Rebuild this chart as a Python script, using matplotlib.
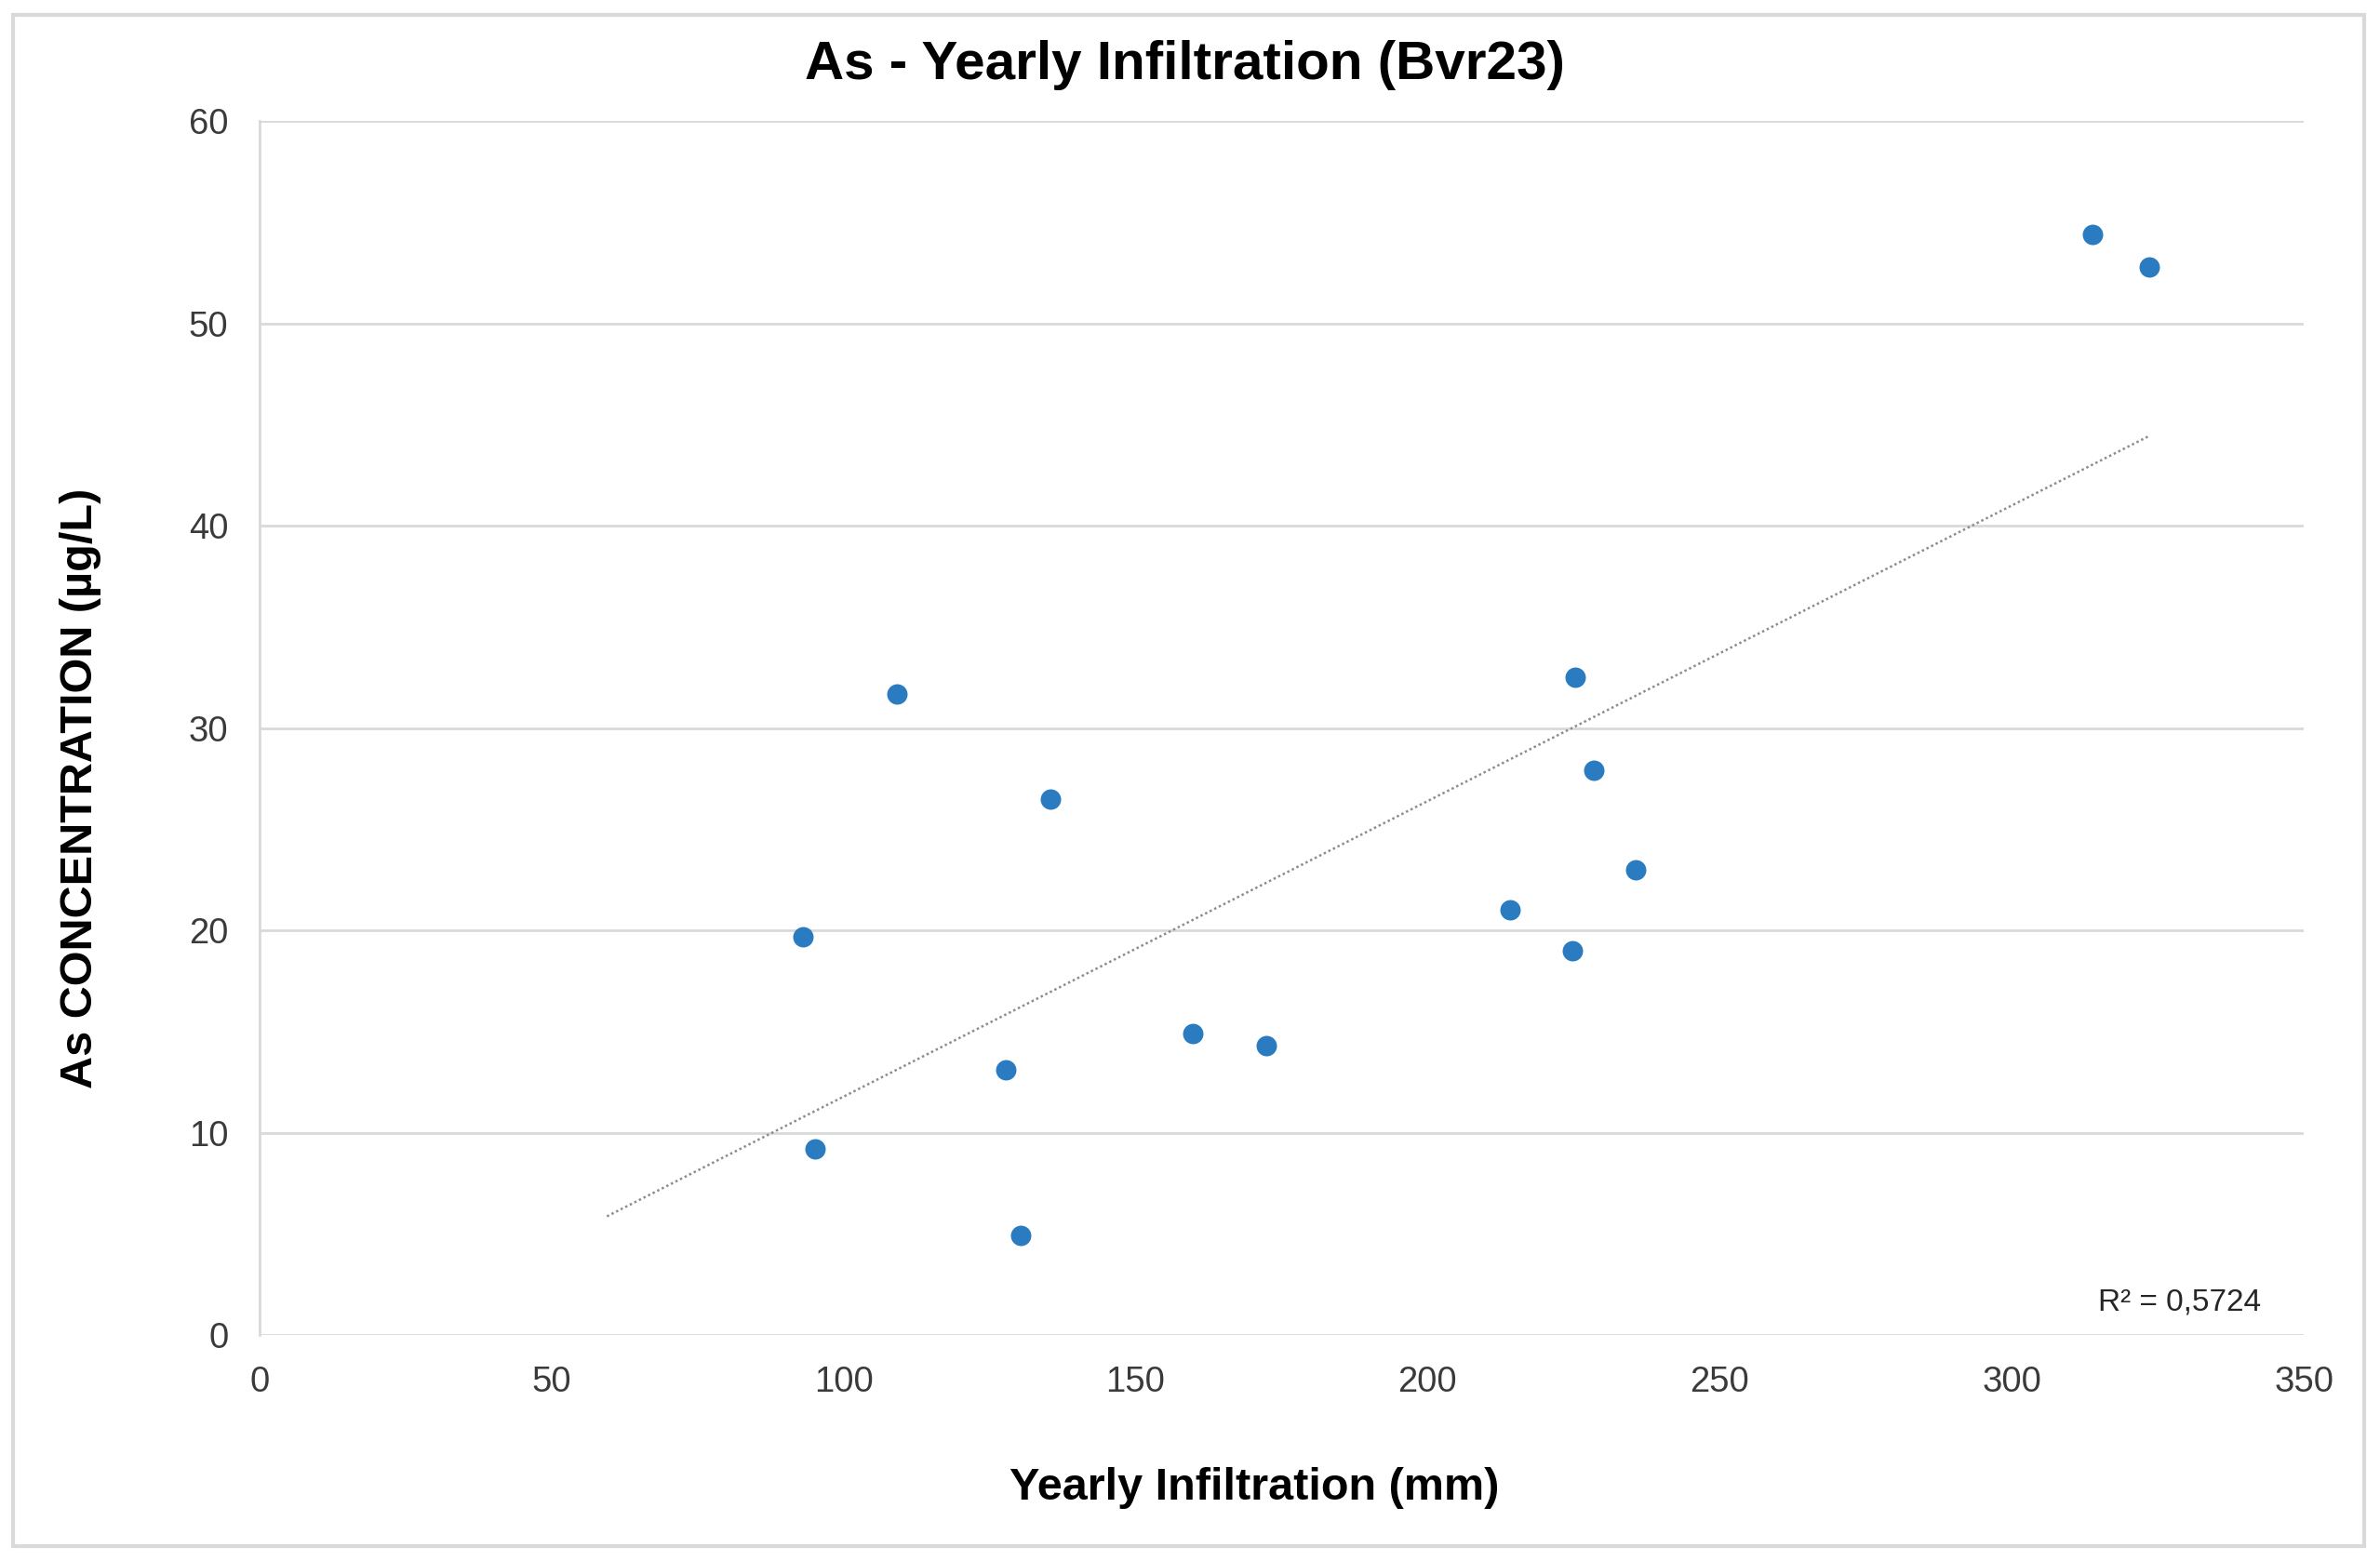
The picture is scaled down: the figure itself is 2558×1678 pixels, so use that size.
import numpy as np
import matplotlib.pyplot as plt
from matplotlib.patches import Rectangle

plt.rcParams['font.family'] = ['Liberation Sans', 'DejaVu Sans']

# Yearly infiltration (mm) vs As concentration (ug/L), Bvr23
infiltration = [93.0, 95.1, 109.1, 127.8, 130.4, 135.4, 159.8, 172.3,
                214.1, 224.7, 225.3, 228.4, 235.6, 313.8, 323.5]
concentration = [19.7, 9.2, 31.7, 13.1, 4.9, 26.5, 14.9, 14.3,
                 21.0, 19.0, 32.5, 27.9, 23.0, 54.4, 52.8]
r2_label = 'R² = 0,5724'
x_ticks = [0, 50, 100, 150, 200, 250, 300, 350]
y_ticks = [0, 10, 20, 30, 40, 50, 60]

x = np.array(infiltration)
y = np.array(concentration)

fig = plt.figure(figsize=(25.58, 16.78), dpi=100)
ax = fig.add_axes([0.109, 0.1448, 0.859, 0.7777])

# chart area border like excel
fig.patches.append(Rectangle((0.0055, 0.0095), 0.988, 0.981, transform=fig.transFigure,
                             fill=False, edgecolor='#d9d9d9', lw=3))

ax.scatter(x, y, s=250, color='#2a7bc0', zorder=3, linewidths=0)

# linear trendline, forecast backward a bit
slope, inter = np.polyfit(x, y, 1)
xt = np.array([x.min() - 33.5, x.max()])
ax.plot(xt, slope * xt + inter, color='#8c8c8c', lw=1.8, ls=(0, (1, 1.2)), zorder=2)

ax.text(328.7, 1.6, r2_label, fontsize=24, ha='center', va='center', color='#262626')

ax.set_xlim(0, 350)
ax.set_ylim(0, 60)
ax.set_xticks(x_ticks)
ax.set_yticks(y_ticks)
ax.tick_params(axis='both', length=0, labelsize=27.5, labelcolor='#3a3a3a')
ax.tick_params(axis='x', pad=24)
ax.tick_params(axis='y', pad=24)

ax.grid(axis='y', color='#d9d9d9', lw=2)
ax.set_axisbelow(True)
for s in ['top', 'right', 'bottom']:
    ax.spines[s].set_visible(False)
ax.spines['left'].set_color('#d9d9d9')
ax.spines['left'].set_linewidth(2)

fig.text(0.498, 0.958, 'As - Yearly Infiltration (Bvr23)', fontsize=42,
         fontweight='bold', ha='center', va='center')
fig.text(0.527, 0.0465, 'Yearly Infiltration (mm)', fontsize=35,
         fontweight='bold', ha='center', va='center')
fig.text(0.034, 0.495, 'As CONCENTRATION (µg/L)', fontsize=35,
         fontweight='bold', ha='center', va='center', rotation=90)

fig.savefig('out.png', dpi=100)
